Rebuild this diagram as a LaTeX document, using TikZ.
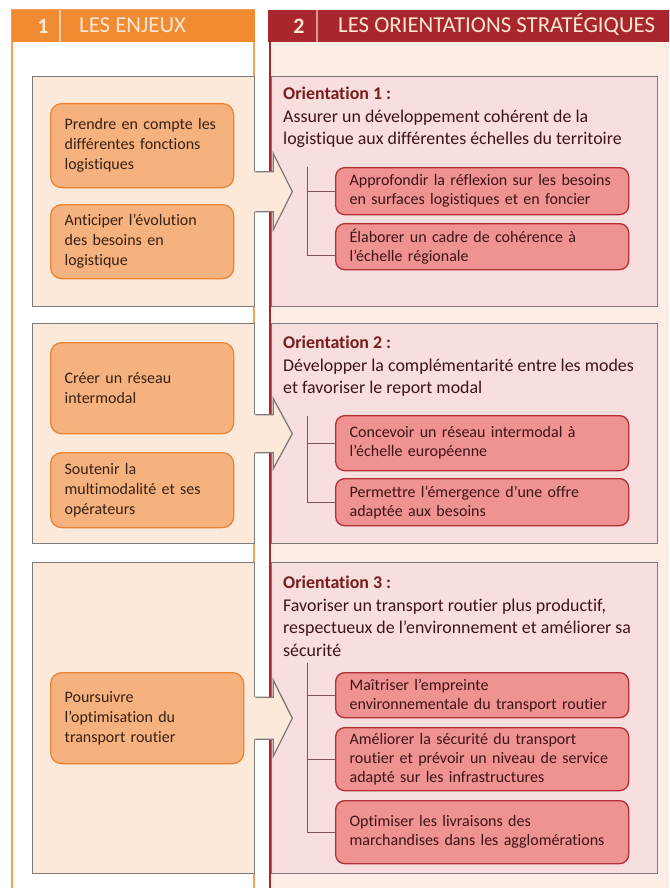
\documentclass[tikz,border=0pt]{standalone}
\usepackage{fontspec}
\setmainfont{Carlito}[Ligatures=NoCommon]
\usetikzlibrary{calc}

\definecolor{enjeuorange}{RGB}{241,139,50}
\definecolor{colorange}{RGB}{243,160,90}
\definecolor{hdrred}{RGB}{168,38,44}
\definecolor{hdrlight}{RGB}{252,230,212}
\definecolor{rcream}{RGB}{252,238,228}
\definecolor{lpeach}{RGB}{252,233,218}
\definecolor{rpink}{RGB}{249,222,222}
\definecolor{blockgray}{RGB}{125,122,122}
\definecolor{boxfill}{RGB}{246,178,126}
\definecolor{boxorange}{RGB}{233,132,52}
\definecolor{boxsalmon}{RGB}{238,146,146}
\definecolor{boxred}{RGB}{178,48,54}
\definecolor{treebrown}{RGB}{122,84,84}
\definecolor{leftink}{RGB}{55,32,20}
\definecolor{rightink}{RGB}{62,20,20}
\definecolor{orientred}{RGB}{120,28,28}

\begin{document}
\begin{tikzpicture}[x=1pt, y=-1pt,
  hdrnum/.style={inner sep=0pt, text=hdrlight, font=\fontsize{22}{26}\selectfont\bfseries},
  hdrtitle/.style={inner sep=0pt, anchor=base west, text=hdrlight, font=\fontsize{22.8}{26}\selectfont},
  lblock/.style={draw=blockgray, fill=lpeach, line width=1.3pt, anchor=north west, inner sep=0pt, minimum width=222pt},
  rblock/.style={draw=blockgray, fill=rpink, line width=1.3pt, anchor=north west, inner sep=0pt, minimum width=386pt},
  enjeu/.style={draw=boxorange, fill=boxfill, line width=1.3pt, rounded corners=11pt, anchor=north west, align=left, inner xsep=14pt, text width=155pt, text=leftink, font=\fontsize{16}{20}\selectfont},
  orient/.style={anchor=north west, inner sep=0pt, align=left, text=rightink, font=\fontsize{17.9}{22.5}\selectfont},
  action/.style={draw=boxred, fill=boxsalmon, line width=1.3pt, rounded corners=9pt, anchor=north west, align=left, inner xsep=14pt, text width=265pt, text=rightink, font=\fontsize{16}{19}\selectfont},
  treeline/.style={draw=treebrown, line width=1pt},
  arrowedge/.style={draw=blockgray, line width=1.3pt}]
\useasboundingbox (0,0) rectangle (669,888);
\clip (0,0) rectangle (669,888);

% Columns
\draw[colorange, line width=1.5pt, fill=white] (12,10) rectangle (254,900);
\fill[rcream] (270,10) rectangle (690,900);

% Headers
\node[fill=enjeuorange, anchor=north west, minimum width=243pt, minimum height=32pt, inner sep=0pt] (h1) at (12,10) {};
\node[hdrnum] (n1) at (43,26) {1};
\draw[hdrlight!70!enjeuorange, line width=1.2pt] (60,10) -- (60,42);
\node[hdrtitle] (t1) at (79,33) {LES ENJEUX};

\node[fill=hdrred, anchor=north west, minimum width=420pt, minimum height=32pt, inner sep=0pt] (h2) at (268,10) {};
\node[hdrnum] (n2) at (299,26) {2};
\draw[hdrlight!60!hdrred, line width=1.2pt] (317,10) -- (317,42);
\node[hdrtitle] (t2) at (338,33) {LES ORIENTATIONS STRATÉGIQUES};

% Blocks
\node[lblock, minimum height=230pt] (l1) at (32,76) {};
\node[lblock, minimum height=220pt] (l2) at (32,323) {};
\node[lblock, minimum height=311pt] (l3) at (32,562) {};

\node[rblock, minimum height=230pt] (r1) at (271,76) {};
\node[rblock, minimum height=220pt] (r2) at (271,323) {};
\node[rblock, minimum height=311pt] (r3) at (271,562) {};

\draw[hdrred, line width=2pt] (270,42) -- (270,900);

% Les enjeux
\node[enjeu, minimum height=84pt] (e11) at (50,103) {Prendre en compte les\\différentes fonctions\\logistiques};
\node[enjeu, minimum height=74pt] (e12) at (50,204) {Anticiper l’évolution\\des besoins en\\logistique};
\node[enjeu, minimum height=91pt] (e21) at (50,342) {Créer un réseau\\intermodal};
\node[enjeu, minimum height=75pt] (e22) at (50,452) {Soutenir la\\multimodalité et ses\\opérateurs};
\node[enjeu, minimum height=91pt, text width=165pt] (e31) at (50,672) {Poursuivre\\l’optimisation du\\transport routier};

% Orientation 1
\node[orient] (o1) at (283,87) {{\bfseries\color{orientred}Orientation 1~:}\\Assurer un développement cohérent de la\\logistique aux différentes échelles du territoire};
\node[action, minimum height=47pt] (s11) at (335,167) {Approfondir la réflexion sur les besoins\\en surfaces logistiques et en foncier};
\node[action, minimum height=46pt] (s12) at (335,223) {Élaborer un cadre de cohérence à\\l’échelle régionale};
\coordinate (v1) at (307,167);
\draw[treeline] (v1) |- (s11.west);
\draw[treeline] (v1) |- ([yshift=-9pt]s12.west);

% Orientation 2
\node[orient] (o2) at (283,336) {{\bfseries\color{orientred}Orientation 2~:}\\Développer la complémentarité entre les modes\\et favoriser le report modal};
\node[action, minimum height=55pt] (s21) at (335,415) {Concevoir un réseau intermodal à\\l’échelle européenne};
\node[action, minimum height=47pt] (s22) at (335,478) {Permettre l’émergence d’une offre\\adaptée aux besoins};
\coordinate (v2) at (307,416);
\draw[treeline] (v2) |- (s21.west);
\draw[treeline] (v2) |- (s22.west);

% Orientation 3
\node[orient] (o3) at (283,576) {{\bfseries\color{orientred}Orientation 3~:}\\Favoriser un transport routier plus productif,\\respectueux de l’environnement et améliorer sa\\sécurité};
\node[action, minimum height=45pt] (s31) at (335,672) {Maîtriser l’empreinte\\environnementale du transport routier};
\node[action, minimum height=63pt] (s32) at (335,727) {Améliorer la sécurité du transport\\routier et prévoir un niveau de service\\adapté sur les infrastructures};
\node[action, minimum height=63pt] (s33) at (335,800) {Optimiser les livraisons des\\marchandises dans les agglomérations};
\coordinate (v3) at (307,663);
\draw[treeline] (v3) |- (s31.west);
\draw[treeline] (v3) |- (s32.west);
\draw[treeline] (v3) |- (s33.west);

% Arrows from enjeux to orientations
\fill[lpeach] ($(l1.east)+(-2,-20)$) -- ($(l1.east)+(18,-20)$) -- ($(l1.east)+(18,-38)$) -- ($(l1.east)+(37,0)$) -- ($(l1.east)+(18,38)$) -- ($(l1.east)+(18,20)$) -- ($(l1.east)+(-2,20)$) -- cycle;
\draw[arrowedge] ($(l1.east)+(0,-20)$) -- ($(l1.east)+(18,-20)$) -- ($(l1.east)+(18,-38)$) -- ($(l1.east)+(37,0)$) -- ($(l1.east)+(18,38)$) -- ($(l1.east)+(18,20)$) -- ($(l1.east)+(0,20)$);

\fill[lpeach] ($(l2.east)+(-2,-19)$) -- ($(l2.east)+(18,-19)$) -- ($(l2.east)+(18,-35)$) -- ($(l2.east)+(37,0)$) -- ($(l2.east)+(18,35)$) -- ($(l2.east)+(18,19)$) -- ($(l2.east)+(-2,19)$) -- cycle;
\draw[arrowedge] ($(l2.east)+(0,-19)$) -- ($(l2.east)+(18,-19)$) -- ($(l2.east)+(18,-35)$) -- ($(l2.east)+(37,0)$) -- ($(l2.east)+(18,35)$) -- ($(l2.east)+(18,19)$) -- ($(l2.east)+(0,19)$);

\fill[lpeach] ($(l3.east)+(-2,-21)$) -- ($(l3.east)+(18,-21)$) -- ($(l3.east)+(18,-38)$) -- ($(l3.east)+(37,0)$) -- ($(l3.east)+(18,38)$) -- ($(l3.east)+(18,21)$) -- ($(l3.east)+(-2,21)$) -- cycle;
\draw[arrowedge] ($(l3.east)+(0,-21)$) -- ($(l3.east)+(18,-21)$) -- ($(l3.east)+(18,-38)$) -- ($(l3.east)+(37,0)$) -- ($(l3.east)+(18,38)$) -- ($(l3.east)+(18,21)$) -- ($(l3.east)+(0,21)$);
\end{tikzpicture}
\end{document}
